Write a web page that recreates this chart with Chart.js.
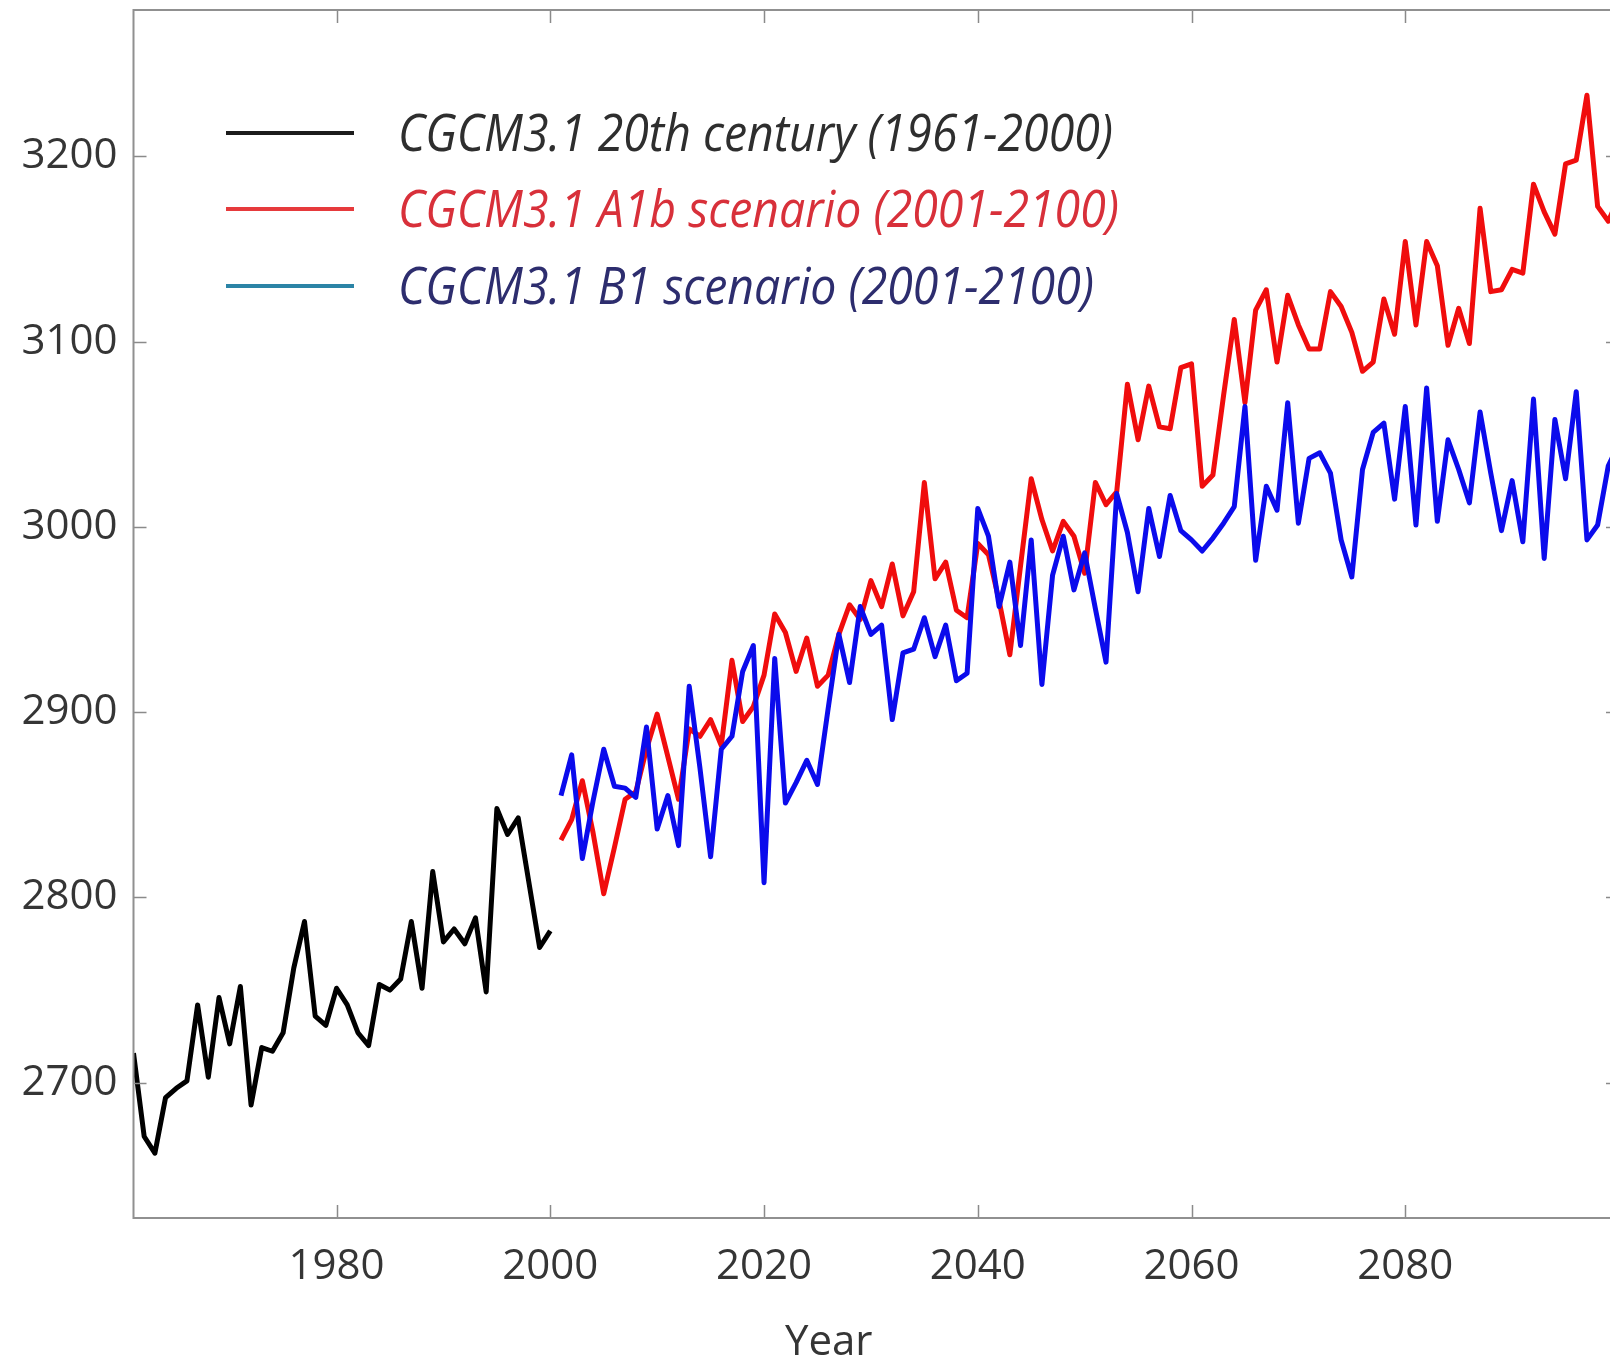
<!DOCTYPE html>
<html>
<head>
<meta charset="utf-8">
<script src="https://cdn.jsdelivr.net/npm/chart.js@4.4.1/dist/chart.umd.min.js"></script>
<style>
  html, body { margin: 0; padding: 0; background: #fff; overflow: hidden; }
  #wrap { position: relative; width: 1625px; height: 1364px; }
</style>
</head>
<body>
<div id="wrap"><canvas id="chart"></canvas></div>
<script>
// annual values, first year of each run
const histStart = 1961;
const scenStart = 2001;

// CGCM3.1 20th century run, 1961-2000
const hist20c = [
  2716, 2671, 2662, 2692, 2697, 2701, 2742, 2703, 2746, 2721,
  2752, 2688, 2719, 2717, 2727, 2762, 2787, 2736, 2731, 2751,
  2742, 2727, 2720, 2753, 2750, 2756, 2787, 2751, 2814, 2776,
  2783, 2775, 2789, 2749, 2848, 2834, 2843, 2808, 2773, 2782
];

// A1b scenario, 2001-2100
const a1b = [
  2831, 2842, 2863, 2835, 2802, 2827, 2853, 2857, 2880, 2899,
  2876, 2853, 2891, 2887, 2896, 2882, 2928, 2895, 2903, 2920,
  2953, 2943, 2922, 2940, 2914, 2920, 2942, 2958, 2950, 2971,
  2957, 2980, 2952, 2965, 3024, 2972, 2981, 2955, 2951, 2991,
  2985, 2960, 2931, 2979, 3026, 3004, 2987, 3003, 2995, 2975,
  3024, 3012, 3019, 3077, 3047, 3076, 3054, 3053, 3086, 3088,
  3022, 3028, 3071, 3112, 3067, 3117, 3128, 3089, 3125, 3109,
  3096, 3096, 3127, 3119, 3105, 3084, 3089, 3123, 3104, 3154,
  3109, 3154, 3141, 3098, 3118, 3099, 3172, 3127, 3128, 3139,
  3137, 3185, 3170, 3158, 3196, 3198, 3233, 3173, 3165, 3178
];

// B1 scenario, 2001-2100
const b1 = [
  2855, 2877, 2821, 2852, 2880, 2860, 2859, 2854, 2892, 2837,
  2855, 2828, 2914, 2870, 2822, 2880, 2887, 2922, 2936, 2808,
  2929, 2851, 2862, 2874, 2861, 2902, 2942, 2916, 2957, 2942,
  2947, 2896, 2932, 2934, 2951, 2930, 2947, 2917, 2921, 3010,
  2995, 2957, 2981, 2936, 2993, 2915, 2974, 2995, 2966, 2986,
  2956, 2927, 3018, 2997, 2965, 3010, 2984, 3017, 2998, 2993,
  2987, 2994, 3002, 3011, 3065, 2982, 3022, 3009, 3067, 3002,
  3037, 3040, 3029, 2993, 2973, 3031, 3051, 3056, 3015, 3065,
  3001, 3075, 3003, 3047, 3031, 3013, 3062, 3029, 2998, 3025,
  2992, 3069, 2983, 3058, 3026, 3073, 2993, 3001, 3033, 3045
];

const xTickYears = [1980, 2000, 2020, 2040, 2060, 2080];
const yTickValues = [2700, 2800, 2900, 3000, 3100, 3200];

const seriesLabels = [
  'CGCM3.1 20th century (1961-2000)',
  'CGCM3.1 A1b scenario (2001-2100)',
  'CGCM3.1 B1 scenario (2001-2100)'
];
const lineColors = ['#000000', '#f00d0d', '#0b0bec'];
const legendLineColors = ['#1c1c1c', '#e63a3c', '#2b84a6'];
const legendTextColors = ['#2e2e2e', '#d8303a', '#2d2d6e'];

const toPoints = (start, vals) => vals.map((v, i) => ({ x: start + i, y: v }));

const tickFont = { family: 'Open Sans', size: 42 };
const tickColor = '#353535';

// spines and inward tick marks on all four sides, legend and axis title
const framePlugin = {
  id: 'frame',
  afterDatasetsDraw(chart) {
    const { ctx, chartArea: a, scales } = chart;
    const len = 13;
    ctx.save();
    ctx.strokeStyle = '#8a8a8a';
    ctx.lineWidth = 1.5;
    ctx.beginPath();
    scales.x.ticks.forEach(t => {
      const px = Math.round(scales.x.getPixelForValue(t.value)) + 0.5;
      ctx.moveTo(px, a.bottom); ctx.lineTo(px, a.bottom - len);
      ctx.moveTo(px, a.top); ctx.lineTo(px, a.top + len);
    });
    scales.y.ticks.forEach(t => {
      const py = Math.round(scales.y.getPixelForValue(t.value)) + 0.5;
      ctx.moveTo(a.left, py); ctx.lineTo(a.left + len, py);
      ctx.moveTo(a.right, py); ctx.lineTo(a.right - len, py);
    });
    ctx.stroke();
    ctx.lineWidth = 2;
    ctx.strokeStyle = '#909090';
    ctx.strokeRect(a.left, a.top, a.right - a.left, a.bottom - a.top);
    ctx.restore();
  },
  afterDraw(chart) {
    const { ctx, chartArea: a } = chart;
    ctx.save();

    // legend
    const rowY = [133, 209, 286];
    const lineX0 = 226, lineX1 = 354, textX = 398;
    ctx.font = 'italic 52px "Open Sans"';
    const squeeze = 715 / ctx.measureText(seriesLabels[0]).width;
    seriesLabels.forEach((label, i) => {
      ctx.strokeStyle = legendLineColors[i];
      ctx.lineWidth = 4;
      ctx.beginPath();
      ctx.moveTo(lineX0, rowY[i]);
      ctx.lineTo(lineX1, rowY[i]);
      ctx.stroke();
      ctx.save();
      ctx.translate(textX, rowY[i] + 18);
      ctx.scale(squeeze, 1);
      ctx.fillStyle = legendTextColors[i];
      ctx.textAlign = 'left';
      ctx.textBaseline = 'alphabetic';
      ctx.fillText(label, 0, 0);
      ctx.restore();
    });

    // x axis title
    ctx.font = '42px "Open Sans"';
    ctx.fillStyle = tickColor;
    ctx.textAlign = 'center';
    ctx.textBaseline = 'middle';
    ctx.fillText('Year', a.left + (a.right - a.left) * 0.468, 1343);
    ctx.restore();
  }
};

const lineStyle = {
  borderWidth: 5,
  pointRadius: 0,
  tension: 0,
  borderJoinStyle: 'round',
  fill: false
};

new Chart(document.getElementById('chart'), {
  type: 'line',
  data: {
    datasets: [
      { ...lineStyle, label: seriesLabels[0], data: toPoints(histStart, hist20c), borderColor: lineColors[0], order: 2 },
      { ...lineStyle, label: seriesLabels[1], data: toPoints(scenStart, a1b), borderColor: lineColors[1], order: 1 },
      { ...lineStyle, label: seriesLabels[2], data: toPoints(scenStart, b1), borderColor: lineColors[2], order: 0 }
    ]
  },
  options: {
    responsive: true,
    maintainAspectRatio: false,
    animation: false,
    layout: { padding: { top: 10, right: 6, left: 0, bottom: 0 } },
    plugins: {
      legend: { display: false },
      tooltip: { enabled: false }
    },
    scales: {
      x: {
        type: 'linear',
        min: 1961,
        max: 2100,
        afterBuildTicks: s => { s.ticks = xTickYears.map(v => ({ value: v })); },
        afterFit: s => { s.height = 146; s.paddingLeft = 0; s.paddingRight = 0; },
        grid: { display: false, drawTicks: false },
        border: { display: false },
        ticks: {
          font: tickFont,
          color: tickColor,
          padding: 24,
          maxRotation: 0,
          autoSkip: false,
          callback: v => String(v)
        }
      },
      y: {
        type: 'linear',
        min: 2627,
        max: 3279,
        afterBuildTicks: s => { s.ticks = yTickValues.map(v => ({ value: v })); },
        afterFit: s => { s.width = 133.5; s.paddingTop = 0; s.paddingBottom = 0; },
        grid: { display: false, drawTicks: false },
        border: { display: false },
        ticks: {
          font: tickFont,
          color: tickColor,
          padding: 16,
          autoSkip: false,
          callback: v => String(v)
        }
      }
    }
  },
  plugins: [framePlugin]
});
</script>
</body>
</html>
